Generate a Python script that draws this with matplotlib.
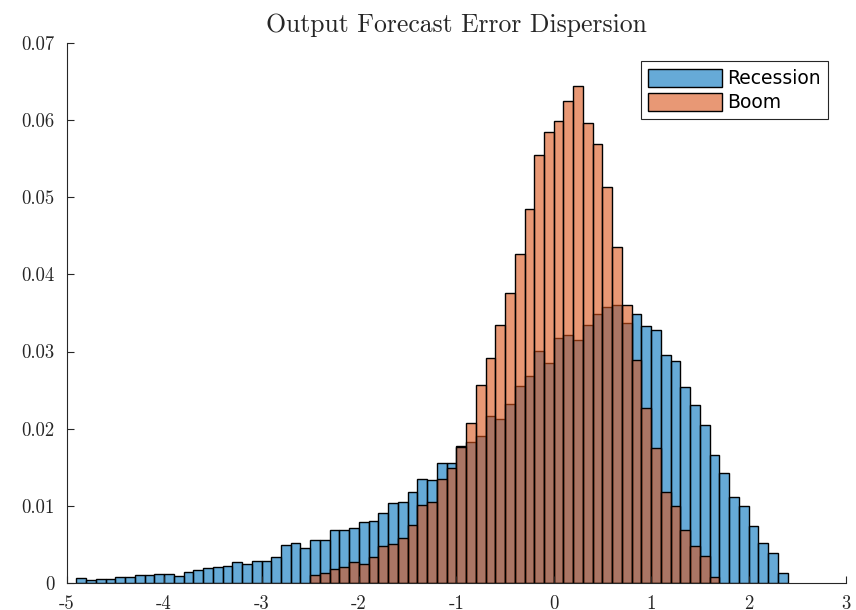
import numpy as np
import matplotlib
matplotlib.use('Agg')
import matplotlib.pyplot as plt

# ── histogram data (share of draws per 0.1-wide bin) ───────────
BIN_W = 0.1

rec_start = -4.9
recession = [
    0.00056, 0.00035, 0.00052, 0.00052, 0.00074, 0.00074, 0.00095, 0.00095,
    0.00117, 0.00117, 0.00091, 0.00143, 0.00164, 0.00186, 0.00199, 0.00221,
    0.00268, 0.00242, 0.00285, 0.00285, 0.00329, 0.00489, 0.00515, 0.00452,
    0.00554, 0.00554, 0.00680, 0.00680, 0.00706, 0.00784, 0.00805, 0.00908,
    0.01030, 0.01050, 0.01180, 0.01340, 0.01330, 0.01557, 0.01557, 0.01780,
    0.01830, 0.01910, 0.02160, 0.02126, 0.02320, 0.02550, 0.02680, 0.03010,
    0.02846, 0.03170, 0.03220, 0.03150, 0.03347, 0.03483, 0.03574, 0.03605,
    0.03365, 0.03483, 0.03333, 0.03280, 0.02950, 0.02880, 0.02540, 0.02300,
    0.02050, 0.01657, 0.01427, 0.01116, 0.00990, 0.00740, 0.00510, 0.00380,
    0.00120,
]

boom_start = -2.5
boom = [
    0.00104, 0.00126, 0.00182, 0.00200, 0.00265, 0.00247, 0.00330, 0.00480,
    0.00500, 0.00580, 0.00745, 0.01010, 0.01050, 0.01346, 0.01484, 0.01760,
    0.02070, 0.02570, 0.02920, 0.03350, 0.03756, 0.04270, 0.04850, 0.05545,
    0.05850, 0.05995, 0.06246, 0.06450, 0.05970, 0.05687, 0.05140, 0.04352,
    0.03605, 0.02886, 0.02263, 0.01750, 0.01180, 0.00990, 0.00680, 0.00470,
    0.00350, 0.00080,
]

x_ticks = [-5, -4, -3, -2, -1, 0, 1, 2, 3]
y_ticks = [0, 0.01, 0.02, 0.03, 0.04, 0.05, 0.06, 0.07]
y_tick_labels = ['0', '0.01', '0.02', '0.03', '0.04', '0.05', '0.06', '0.07']

# ── style ──────────────────────────────────────────────────────
plt.rcParams['font.family'] = ['cmr10', 'DejaVu Serif']
plt.rcParams['axes.unicode_minus'] = False
plt.rcParams['mathtext.fontset'] = 'cm'

BLUE   = (0.0, 0.447, 0.741, 0.6)
ORANGE = (0.85, 0.325, 0.098, 0.6)
AXCLR  = '#262626'

fig = plt.figure(figsize=(8.56, 6.10), dpi=100, facecolor='white')
ax = fig.add_axes([0.0779, 0.0448, 0.9104, 0.8842])

rec_edges  = rec_start + BIN_W * np.arange(len(recession))
boom_edges = boom_start + BIN_W * np.arange(len(boom))

ax.bar(rec_edges, recession, width=BIN_W, align='edge',
       color=BLUE, edgecolor='black', linewidth=1.0, label='Recession')
ax.bar(boom_edges, boom, width=BIN_W, align='edge',
       color=ORANGE, edgecolor='black', linewidth=1.0, label='Boom')

ax.set_xlim(-5, 3)
ax.set_ylim(0, 0.07)
ax.set_xticks(x_ticks)
ax.set_xticklabels([str(t) for t in x_ticks])
ax.set_yticks(y_ticks)
ax.set_yticklabels(y_tick_labels)

for side in ('top', 'right'):
    ax.spines[side].set_visible(False)
for side in ('left', 'bottom'):
    ax.spines[side].set_color(AXCLR)
    ax.spines[side].set_linewidth(0.8)
ax.tick_params(direction='in', length=5, width=0.8, colors=AXCLR,
               labelsize=13.5, pad=9)

ax.set_title('Output Forecast Error Dispersion', fontsize=18.5,
             color=AXCLR, pad=8)

leg = ax.legend(loc='upper right', bbox_to_anchor=(0.9676, 0.9),
                bbox_transform=fig.transFigure, borderaxespad=0,
                prop={'family': 'DejaVu Sans', 'size': 13.5},
                handlelength=3.9, handleheight=1.1, handletextpad=0.3,
                labelspacing=0.25, borderpad=0.4, fancybox=False,
                framealpha=1, edgecolor=AXCLR)
leg.get_frame().set_linewidth(0.8)

fig.savefig('out.png', dpi=100, facecolor='white')
